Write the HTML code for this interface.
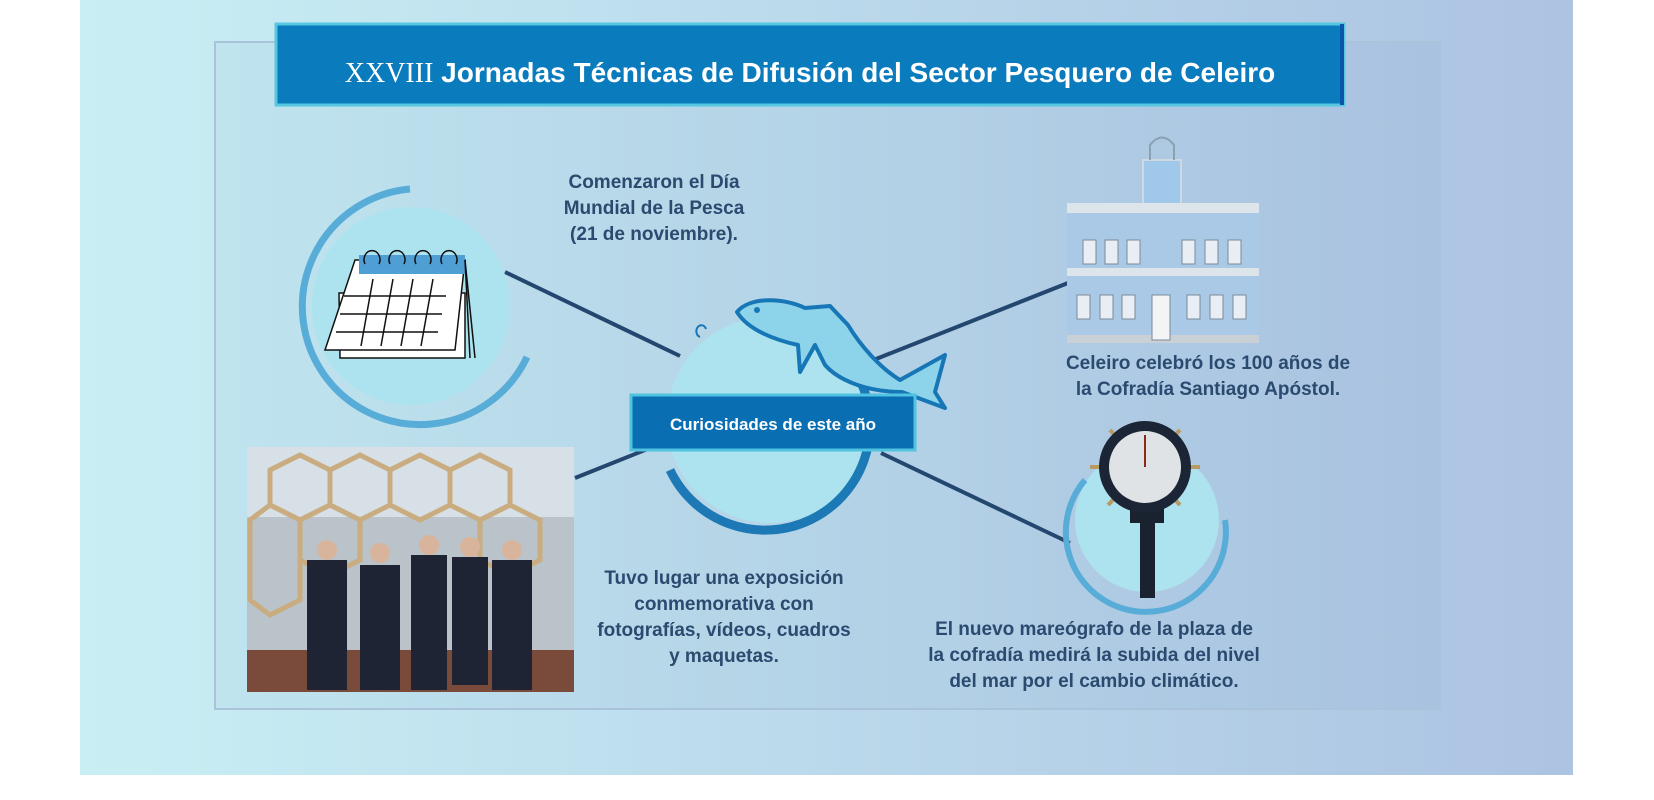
<!DOCTYPE html>
<html><head><meta charset="utf-8"><style>
html,body{margin:0;padding:0;width:1654px;height:800px;overflow:hidden;background:#fff}
svg{display:block}
text{font-family:"Liberation Sans",sans-serif;font-weight:bold}
</style></head><body>
<svg width="1654" height="800" viewBox="0 0 1654 800" xmlns="http://www.w3.org/2000/svg">
<defs>
<linearGradient id="bg" x1="0" x2="1" y1="0" y2="0"><stop offset="0" stop-color="#c9eff4"/><stop offset="1" stop-color="#acc3e2"/></linearGradient>
<linearGradient id="pn" x1="0" x2="1" y1="0" y2="0"><stop offset="0" stop-color="#bfe4ee"/><stop offset="1" stop-color="#a9c2e0"/></linearGradient>
</defs>
<rect x="80" y="0" width="1493" height="775" fill="url(#bg)"/>
<rect x="215" y="42" width="1225" height="667" fill="url(#pn)" stroke="#aac2da" stroke-width="2"/>
<rect x="276" y="24" width="1068" height="81" fill="#0a7bbd" stroke="#55c7e0" stroke-width="3"/>
<rect x="1340" y="24" width="4" height="81" fill="#0b56a8"/>
<text x="810" y="82" text-anchor="middle" font-size="28" fill="#fff"><tspan font-family="Liberation Serif" font-weight="normal">XXVIII</tspan> Jornadas Técnicas de Difusión del Sector Pesquero de Celeiro</text>
<g stroke="#23476f" stroke-width="4" fill="none">
<line x1="505" y1="272" x2="680" y2="356"/>
<line x1="575" y1="478" x2="650" y2="448"/>
<line x1="876" y1="359" x2="1068" y2="283"/>
<line x1="881" y1="453" x2="1070" y2="543"/>
</g>
<circle cx="411" cy="306" r="99" fill="#ace3ef"/>
<path d="M410 189 A118 118 0 1 0 527 357" stroke="#58acd8" stroke-width="7" fill="none"/>
<g stroke="#111" stroke-width="1.5" fill="#fff">
<polygon points="339,293 465,293 465,358 340,358"/>
<polygon points="355,260 465,260 455,350 325,350"/>
</g>
<rect x="359" y="255" width="106" height="19" fill="#4f9fd4"/>
<g stroke="#111" stroke-width="1.5" fill="none">
<path d="M365 264 a8 9 0 1 1 14 0 M390 264 a8 9 0 1 1 14 0 M416 264 a8 9 0 1 1 14 0 M442 264 a8 9 0 1 1 14 0"/>
<line x1="344" y1="296" x2="446" y2="296"/><line x1="340" y1="314" x2="442" y2="314"/><line x1="336" y1="332" x2="438" y2="332"/>
<line x1="373" y1="279" x2="361" y2="346"/><line x1="393" y1="279" x2="381" y2="346"/><line x1="413" y1="279" x2="401" y2="346"/><line x1="433" y1="279" x2="421" y2="346"/>
<line x1="465" y1="260" x2="475" y2="358"/><line x1="465" y1="260" x2="470" y2="358"/>
</g>
<circle cx="770" cy="420" r="103" fill="#ace3ef"/>
<path d="M860 380 A103 103 0 1 1 670 470" stroke="#0b6fb0" stroke-width="9" fill="none" opacity="0.9"/>
<path d="M737 312 C750 296 785 298 805 308 L830 306 L848 325 C860 345 880 368 900 380 L945 355 L935 392 L945 408 L902 392 C870 392 840 382 825 365 L815 345 L800 372 L798 345 C775 340 748 330 737 312 Z" fill="#8dd3ea" stroke="#1676b6" stroke-width="4" stroke-linejoin="round"/>
<circle cx="757" cy="310" r="3" fill="#1676b6"/>
<path d="M700 337 a5 6 0 1 1 6 -8" stroke="#1676b6" stroke-width="2" fill="none"/>
<rect x="631" y="395" width="284" height="55" fill="#0a6fb2" stroke="#4fc3df" stroke-width="3"/>
<text x="773" y="430" text-anchor="middle" font-size="17" fill="#fff">Curiosidades de este año</text>
<rect x="1067" y="203" width="192" height="140" fill="#a9c9e6"/>
<rect x="1143" y="160" width="38" height="45" fill="#9fc8ea" stroke="#cfd9e2" stroke-width="2"/>
<path d="M1150 160 L1150 145 Q1162 130 1174 145 L1174 160" stroke="#8aa0b3" stroke-width="2" fill="none"/>
<rect x="1067" y="203" width="192" height="10" fill="#dde4ea"/>
<rect x="1067" y="268" width="192" height="8" fill="#dde4ea"/>
<rect x="1067" y="335" width="192" height="8" fill="#c9d0d6"/>
<g fill="#e8eef3" stroke="#7a8a99" stroke-width="1">
<rect x="1083" y="240" width="13" height="24"/><rect x="1105" y="240" width="13" height="24"/><rect x="1127" y="240" width="13" height="24"/>
<rect x="1182" y="240" width="13" height="24"/><rect x="1205" y="240" width="13" height="24"/><rect x="1228" y="240" width="13" height="24"/>
<rect x="1077" y="295" width="13" height="24"/><rect x="1100" y="295" width="13" height="24"/><rect x="1122" y="295" width="13" height="24"/>
<rect x="1187" y="295" width="13" height="24"/><rect x="1210" y="295" width="13" height="24"/><rect x="1233" y="295" width="13" height="24"/>
<rect x="1152" y="295" width="18" height="45" fill="#f2f4f6"/>
</g>
<circle cx="1147" cy="520" r="72" fill="#ace3ef"/>
<path d="M1085 480 A80 80 0 1 0 1225 520" stroke="#58acd8" stroke-width="6" fill="none"/>
<g stroke="#b89a62" stroke-width="4"><line x1="1090" y1="467" x2="1200" y2="467"/><line x1="1110" y1="430" x2="1180" y2="505"/><line x1="1180" y1="430" x2="1108" y2="505"/></g>
<rect x="1140" y="490" width="15" height="108" fill="#1a2230"/>
<rect x="1130" y="505" width="34" height="18" fill="#1a2230"/>
<circle cx="1145" cy="467" r="46" fill="#1c2535"/>
<circle cx="1145" cy="467" r="36" fill="#dfe3e6"/>
<line x1="1145" y1="467" x2="1145" y2="435" stroke="#8a2a1a" stroke-width="2"/>
<rect x="247" y="447" width="327" height="245" fill="#b9c3c9"/>
<rect x="247" y="447" width="327" height="70" fill="#d6e0e6"/>
<g fill="none" stroke="#c9ac80" stroke-width="5">
<polygon points="270,470 300,455 330,470 330,505 300,520 270,505"/>
<polygon points="330,470 360,455 390,470 390,505 360,520 330,505"/>
<polygon points="390,470 420,455 450,470 450,505 420,520 390,505"/>
<polygon points="450,470 480,455 510,470 510,505 480,520 450,505"/>
<polygon points="300,520 330,505 360,520 360,560 330,575 300,560"/>
<polygon points="480,520 510,505 540,520 540,560 510,575 480,560"/>
<polygon points="250,520 270,505 300,520 300,600 270,615 250,600"/>
</g>
<rect x="247" y="650" width="327" height="42" fill="#7a4b3a"/>
<g fill="#1e2433">
<rect x="307" y="560" width="40" height="130"/><rect x="360" y="565" width="40" height="125"/><rect x="411" y="555" width="36" height="135"/><rect x="452" y="557" width="36" height="128"/><rect x="492" y="560" width="40" height="130"/>
</g>
<g fill="#d9b49c"><circle cx="327" cy="550" r="10"/><circle cx="380" cy="553" r="10"/><circle cx="429" cy="545" r="10"/><circle cx="470" cy="547" r="10"/><circle cx="512" cy="550" r="10"/></g>
<g fill="#2b4a70" font-size="19" text-anchor="middle">
<text x="654" y="188">Comenzaron el Día</text>
<text x="654" y="214">Mundial de la Pesca</text>
<text x="654" y="240">(21 de noviembre).</text>
<text x="1208" y="369">Celeiro celebró los 100 años de</text>
<text x="1208" y="395">la Cofradía Santiago Apóstol.</text>
<text x="724" y="584">Tuvo lugar una exposición</text>
<text x="724" y="610">conmemorativa con</text>
<text x="724" y="636">fotografías, vídeos, cuadros</text>
<text x="724" y="662">y maquetas.</text>
<text x="1094" y="635">El nuevo mareógrafo de la plaza de</text>
<text x="1094" y="661">la cofradía medirá la subida del nivel</text>
<text x="1094" y="687">del mar por el cambio climático.</text>
</g>
</svg>
</body></html>
